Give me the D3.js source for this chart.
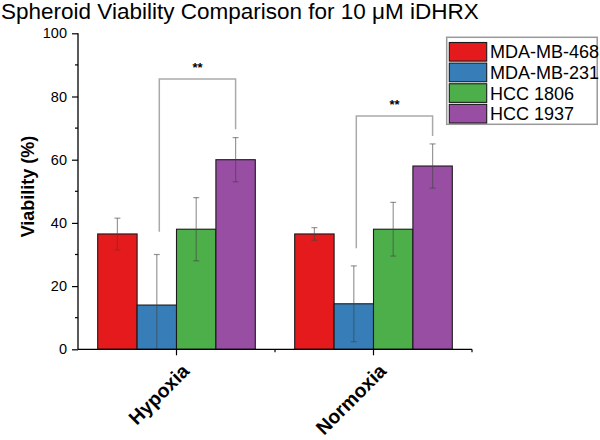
<!DOCTYPE html>
<html><head><meta charset="utf-8">
<script src="https://cdn.jsdelivr.net/npm/d3@7"></script>
<style>body{margin:0;background:#fff}svg{display:block;font-family:"Liberation Sans",Arial,sans-serif}</style>
</head><body>
<svg id="c" width="600" height="440"></svg>
<script>
const conditions = ["Hypoxia", "Normoxia"];
const cellLines = ["MDA-MB-468", "MDA-MB-231", "HCC 1806", "HCC 1937"];
const hypoxiaMeans = [36.5, 14.0, 38.0, 60.0];
const hypoxiaErrors = [5.0, 16.0, 10.0, 7.0];
const normoxiaMeans = [36.5, 14.4, 38.0, 58.0];
const normoxiaErrors = [2.0, 12.0, 8.5, 7.0];
const yTicks = [0, 20, 40, 60, 80, 100];
const colors = ["#e41a1c", "#377eb8", "#4daf4a", "#984ea3"];
// significance brackets: [from series, to series, top, left leg bottom, right leg bottom, label]
const hypoxiaBracket = [1, 3, 85.5, 37.2, 69.6, "**"];
const normoxiaBracket = [1, 3, 73.8, 32.0, 67.5, "**"];

const means = [hypoxiaMeans, normoxiaMeans];
const errors = [hypoxiaErrors, normoxiaErrors];
const brackets = [hypoxiaBracket, normoxiaBracket];

const svg = d3.select("#c");
const x0 = d3.scaleBand().domain(conditions).range([78, 472]).padding(0);
const bw = x0.bandwidth();
const x1 = d3.scaleBand().domain(d3.range(cellLines.length)).range([bw * 0.1, bw * 0.9]).padding(0);
const y = d3.scaleLinear().domain([0, 100]).range([349.3, 33.3]);

// title
svg.append("text").attr("x", 1).attr("y", 19).attr("font-size", 22.5).attr("fill", "#000")
  .text("Spheroid Viability Comparison for 10 μM iDHRX");

// bars
conditions.forEach((c, gi) => {
  const g = svg.append("g").attr("transform", `translate(${x0(c)},0)`);
  g.selectAll("rect").data(means[gi]).join("rect")
    .attr("x", (d, i) => x1(i)).attr("width", x1.bandwidth())
    .attr("y", d => y(d)).attr("height", d => y(0) - y(d))
    .attr("fill", (d, i) => colors[i]).attr("stroke", "#1a1a1a").attr("stroke-width", 1.1);
  // error bars
  const eb = g.append("g").attr("stroke", "#444").attr("stroke-opacity", 0.55).attr("stroke-width", 1.2);
  means[gi].forEach((m, i) => {
    const cx = x1(i) + x1.bandwidth() / 2;
    const top = y(m + errors[gi][i]);
    const bot = y(Math.max(0, m - errors[gi][i]));
    eb.append("line").attr("x1", cx).attr("x2", cx).attr("y1", top).attr("y2", bot);
    eb.append("line").attr("x1", cx - 3).attr("x2", cx + 3).attr("y1", top).attr("y2", top);
    if (m - errors[gi][i] > 0)
      eb.append("line").attr("x1", cx - 3).attr("x2", cx + 3).attr("y1", bot).attr("y2", bot);
  });
  // bracket
  const b = brackets[gi];
  const lx = x1(b[0]) + x1.bandwidth() / 2 + 2.5;
  const rx = x1(b[1]) + x1.bandwidth() / 2;
  g.append("path")
    .attr("d", `M${lx},${y(b[3])}V${y(b[2])}H${rx}V${y(b[4])}`)
    .attr("fill", "none").attr("stroke", "#aaa").attr("stroke-width", 1.5);
  g.append("text").attr("x", (lx + rx) / 2).attr("y", y(b[2]) - 7).attr("text-anchor", "middle")
    .attr("font-size", 13).attr("font-weight", "bold").text(b[5]);
});

// y axis
const yAxis = svg.append("g").attr("transform", "translate(78,0)")
  .call(d3.axisLeft(y).tickValues(yTicks).tickSize(6).tickPadding(5).tickFormat(d3.format("d")));
yAxis.select(".domain").attr("d", `M0,${y(100)}V${y(0)}`).attr("stroke-width", 1.3);
yAxis.selectAll("text").attr("font-size", 14.5).attr("font-family", "Liberation Sans, Arial, sans-serif").attr("fill", "#000");
yAxis.selectAll("line").attr("stroke-width", 1.2);
svg.append("g").selectAll("line").data(d3.range(10, 100, 20)).join("line")
  .attr("x1", 75).attr("x2", 78).attr("y1", d => y(d)).attr("y2", d => y(d))
  .attr("stroke", "#000").attr("stroke-width", 1.2);

// x axis
const xAxis = svg.append("g").attr("transform", `translate(0,${y(0)})`)
  .call(d3.axisBottom(x0).tickSize(6).tickFormat(""));
xAxis.select(".domain").attr("d", `M78,0H472`).attr("stroke-width", 1.3);
xAxis.selectAll("line").attr("stroke-width", 1.2);
svg.append("g").selectAll("line").data(conditions).join("line")
  .attr("x1", d => x0(d) + bw).attr("x2", d => x0(d) + bw)
  .attr("y1", y(0)).attr("y2", y(0) + 3).attr("stroke", "#000").attr("stroke-width", 1.2);
svg.append("g").selectAll("text").data(conditions).join("text")
  .attr("transform", d => `translate(${x0(d) + bw / 2 + 14},${y(0) + 23}) rotate(-45)`)
  .attr("text-anchor", "end").attr("font-size", 19.5).attr("font-weight", "bold").text(d => d);

// y label
svg.append("text").attr("transform", `translate(34,186.5) rotate(-90)`).attr("text-anchor", "middle")
  .attr("font-size", 18).attr("font-weight", "bold").text("Viability (%)");

// legend
const lg = svg.append("g");
lg.append("rect").attr("x", 446.7).attr("y", 37.3).attr("width", 150.5).attr("height", 87)
  .attr("fill", "#fff").attr("stroke", "#999").attr("stroke-width", 1.5);
const ly = d3.scaleBand().domain(cellLines).range([41.5, 124]);
cellLines.forEach((n, i) => {
  lg.append("rect").attr("x", 449.3).attr("y", ly(n) + 1).attr("width", 37.4).attr("height", ly.bandwidth() - 2)
    .attr("fill", colors[i]).attr("stroke", "#1a1a1a").attr("stroke-width", 1.1);
  lg.append("text").attr("x", 490).attr("y", ly(n) + ly.bandwidth() / 2 + 6.5)
    .attr("font-size", 18).text(n);
});
</script>
</body></html>
